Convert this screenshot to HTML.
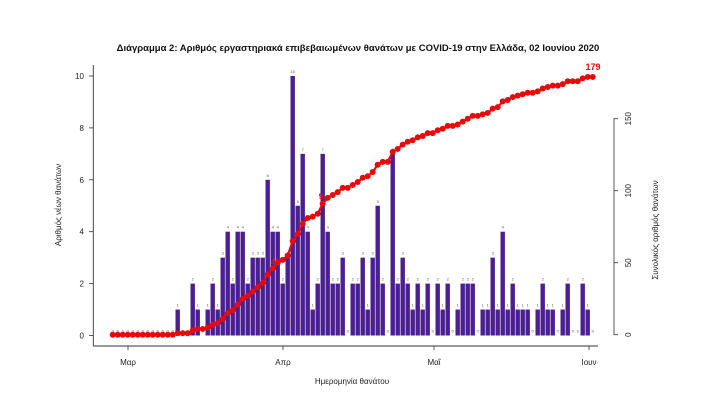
<!DOCTYPE html>
<html><head><meta charset="utf-8"><style>
body{margin:0;background:#fff;}
svg{display:block;font-family:"Liberation Sans",sans-serif;}
</style></head><body>
<svg id="s" width="717" height="403" viewBox="0 0 717 403" xmlns="http://www.w3.org/2000/svg">
<text x="358" y="51" text-anchor="middle" font-size="9.5" font-weight="bold" fill="#111">Διάγραμμα 2: Αριθμός εργαστηριακά επιβεβαιωμένων θανάτων με COVID-19 στην Ελλάδα, 02 Ιουνίου 2020</text>
<g id="g"></g>
</svg>
<script>
var v=[0,0,0,0,0,0,0,0,0,0,0,0,0,1,0,0,2,1,0,1,2,1,3,4,2,4,4,2,3,3,3,6,4,4,2,3,10,5,7,4,1,2,7,4,2,2,3,0,
2,2,3,1,3,5,2,0,7,2,3,2,1,2,1,2,0,2,1,2,0,1,2,2,2,0,1,1,3,1,4,1,2,1,1,1,0,1,2,1,1,0,1,2,0,0,2,1,0];
var h='',base=335.5,u=25.95,x0=112.7,d=5.0;
for(var i=0;i<v.length;i++){var cx=x0+d*i;
 if(v[i]>0)h+='<rect x="'+(cx-2.2)+'" y="'+(base-v[i]*u)+'" width="4.4" height="'+(v[i]*u)+'" fill="#4b1f93"/>';
 h+='<text x="'+cx+'" y="'+(base-v[i]*u-3)+'" font-size="4" text-anchor="middle" fill="#555">'+v[i]+'</text>';}
var c=0,pts=[];
for(var i=0;i<v.length;i++){c+=v[i];pts.push([x0+d*i,334.7-c*1.44]);}
h+='<polyline fill="none" stroke="#e8090b" stroke-width="2.2" points="'+pts.map(function(p){return p.join(',')}).join(' ')+'"/>';
pts.forEach(function(p){h+='<circle cx="'+p[0]+'" cy="'+p[1]+'" r="3" fill="#e8090b"/>';});
h+='<text x="593" y="70" font-size="9" font-weight="bold" fill="#e8090b" text-anchor="middle">179</text>';
h+='<text x="321" y="199" font-size="8" font-weight="bold" fill="#e8090b" text-anchor="middle">9</text>';
h+='<text x="275" y="265" font-size="8" font-weight="bold" fill="#e8090b" text-anchor="middle">49</text>';
h+='<line x1="93.3" y1="65" x2="93.3" y2="346" stroke="#333" stroke-width="0.9"/>';
for(var k=0;k<=10;k+=2){var y=base-k*u;h+='<line x1="89" y1="'+y+'" x2="93.3" y2="'+y+'" stroke="#333" stroke-width="0.8"/><text x="84" y="'+(y+3)+'" font-size="8" text-anchor="end" fill="#222">'+k+'</text>';}
h+='<text transform="translate(61,205) rotate(-90)" font-size="8" text-anchor="middle" fill="#222">Αριθμός νέων θανάτων</text>';
h+='<line x1="614" y1="118" x2="614" y2="335" stroke="#333" stroke-width="0.8"/>';
for(var k=0;k<=150;k+=50){var y=334.7-k*1.44;h+='<line x1="614" y1="'+y+'" x2="618" y2="'+y+'" stroke="#333" stroke-width="0.8"/><text transform="translate(631,'+y+') rotate(-90)" font-size="8" text-anchor="middle" fill="#222">'+k+'</text>';}
h+='<text transform="translate(658,230) rotate(-90)" font-size="8" text-anchor="middle" fill="#222">Συνολικός αριθμός θανάτων</text>';
h+='<line x1="93.3" y1="346" x2="598" y2="346" stroke="#333" stroke-width="0.9"/>';
[[128,'Μαρ'],[283,'Απρ'],[434,'Μαΐ'],[589,'Ιουν']].forEach(function(t){h+='<line x1="'+t[0]+'" y1="346" x2="'+t[0]+'" y2="350" stroke="#333" stroke-width="0.8"/><text x="'+t[0]+'" y="365" font-size="8" text-anchor="middle" fill="#222">'+t[1]+'</text>';});
h+='<text x="352" y="384" font-size="8" text-anchor="middle" fill="#222">Ημερομηνία θανάτου</text>';
document.getElementById('g').innerHTML=h;
</script>
</body></html>
